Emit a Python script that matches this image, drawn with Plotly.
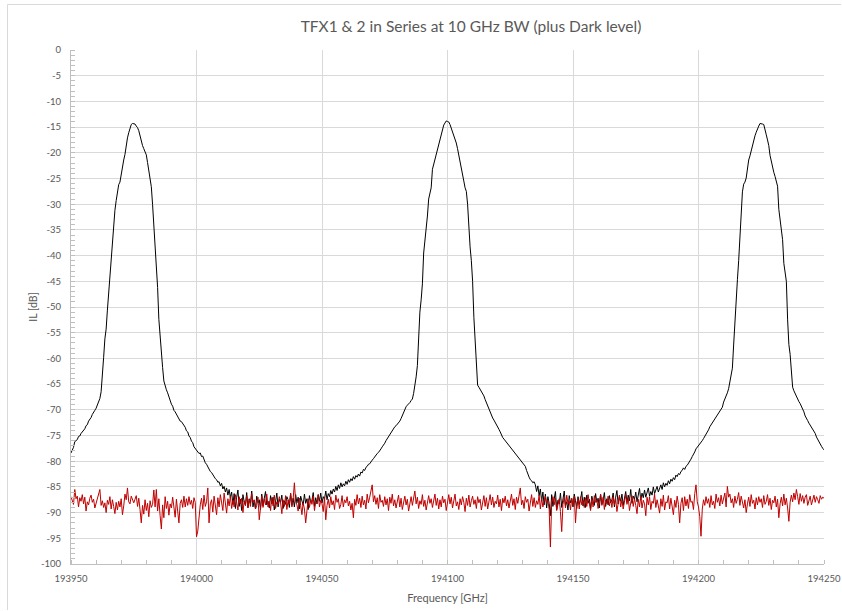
import numpy as np
import plotly.graph_objects as go

# Frequency sweep grid (GHz)
freq_start = 193950.0
freq_step = 0.5

# TFX1 & 2 in series transmission (dB), 0.5 GHz steps, one row = 5 GHz
il_tfx = [
    -78.4, -77.9, -77.3, -76.2, -75.9, -75.8, -75.2, -75.1, -74.6, -74.3,
    -73.8, -73.7, -73.1, -72.9, -72.2, -71.9, -71.5, -70.9, -70.6, -70.1,
    -69.7, -69.1, -68.6, -67.8, -66.5, -63.8, -59.8, -56.2, -54.3, -50.6,
    -47.3, -43.6, -41.0, -36.8, -33.9, -31.2, -29.3, -27.1, -26.2, -25.7,
    -24.0, -22.6, -21.4, -20.3, -18.4, -17.1, -16.1, -15.0, -14.5, -14.3,
    -14.3, -14.4, -14.8, -15.1, -15.7, -16.8, -17.5, -18.6, -19.2, -19.9,
    -20.4, -21.9, -23.4, -25.3, -26.6, -30.1, -33.8, -37.6, -40.7, -46.2,
    -52.4, -56.3, -59.6, -61.8, -64.4, -65.5, -66.1, -66.7, -67.6, -68.1,
    -68.9, -69.3, -70.1, -70.4, -70.9, -71.5, -71.7, -72.2, -72.3, -72.7,
    -73.1, -73.4, -74.1, -74.3, -75.1, -75.4, -76.1, -76.4, -77.2, -77.5,
    -78.0, -78.1, -78.5, -78.4, -79.1, -79.0, -79.7, -80.3, -80.6, -81.1,
    -81.4, -82.0, -82.2, -82.7, -82.9, -83.4, -83.6, -84.1, -84.0, -84.8,
    -84.3, -85.4, -84.9, -86.0, -85.2, -86.6, -85.5, -87.1, -86.0, -88.4,
    -86.3, -89.2, -87.0, -85.6, -88.8, -87.4, -89.6, -86.5, -87.9, -88.6,
    -86.1, -89.0, -87.3, -88.2, -85.8, -88.9, -87.6, -89.3, -86.8, -88.1,
    -87.5, -89.4, -86.4, -88.7, -87.2, -85.9, -88.5, -87.8, -89.1, -86.7,
    -88.3, -87.0, -89.5, -87.6, -86.2, -88.9, -87.4, -88.0, -86.6, -89.2,
    -87.7, -88.4, -86.9, -87.5, -89.0, -86.3, -88.6, -87.2, -88.9, -86.5,
    -88.1, -87.0, -89.3, -86.8, -87.9, -88.6, -86.4, -88.2, -87.3, -89.4,
    -86.7, -88.0, -87.6, -86.1, -88.8, -87.1, -88.3, -86.5, -87.8, -86.2,
    -88.1, -86.9, -87.4, -85.8, -87.5, -86.3, -86.9, -85.7, -86.4, -85.4,
    -86.0, -84.9, -85.7, -84.6, -85.3, -84.2, -85.0, -84.4, -84.8, -83.9,
    -84.5, -83.6, -84.1, -83.4, -83.8, -83.0, -83.5, -82.8, -83.1, -82.5,
    -82.9, -82.1, -82.3, -81.6, -81.8, -81.2, -81.0, -80.6, -80.5, -80.0,
    -79.8, -79.5, -79.1, -78.9, -78.5, -78.3, -77.8, -77.6, -77.2, -76.9,
    -76.5, -76.0, -75.6, -75.2, -74.8, -74.5, -74.0, -73.7, -73.3, -73.1,
    -72.8, -72.6, -72.2, -71.7, -71.1, -70.6, -70.0, -69.4, -69.1, -68.9,
    -68.6, -68.2, -67.9, -66.8, -65.3, -63.6, -61.4, -55.2, -51.0, -48.6,
    -45.5, -39.5, -37.0, -35.9, -32.3, -29.0, -28.0, -26.8, -23.2, -22.2,
    -21.3, -20.3, -19.2, -18.2, -17.3, -16.5, -15.3, -14.6, -14.2, -13.8,
    -13.9, -14.0, -14.5, -15.2, -16.0, -16.6, -17.4, -18.1, -19.2, -20.4,
    -21.4, -22.5, -23.6, -25.5, -26.8, -27.5, -30.0, -35.0, -38.3, -41.0,
    -45.0, -52.0, -56.0, -59.5, -65.2, -65.6, -66.0, -66.4, -66.7, -67.3,
    -68.0, -68.6, -69.3, -70.0, -70.6, -71.1, -71.6, -72.0, -72.4, -72.8,
    -73.2, -73.8, -74.3, -74.9, -75.4, -75.7, -76.0, -76.4, -76.7, -77.0,
    -77.3, -77.6, -77.9, -78.3, -78.5, -78.8, -79.1, -79.4, -79.7, -80.1,
    -80.4, -80.7, -81.0, -81.8, -82.6, -83.1, -83.6, -83.8, -84.2, -84.0,
    -84.6, -85.9, -84.8, -86.7, -85.4, -87.8, -86.0, -88.5, -86.4, -89.1,
    -86.9, -88.2, -90.6, -86.5, -88.8, -87.1, -85.9, -89.4, -87.6, -88.3,
    -86.2, -89.0, -87.4, -85.8, -88.6, -87.9, -89.5, -86.7, -88.1, -87.3,
    -88.9, -86.4, -87.7, -89.2, -86.9, -88.4, -87.5, -85.9, -88.7, -87.0,
    -89.0, -86.6, -88.2, -87.4, -89.3, -86.8, -87.9, -88.6, -86.3, -88.0,
    -87.2, -89.1, -86.5, -88.4, -87.6, -86.1, -88.8, -87.3, -88.5, -86.7,
    -88.1, -87.5, -86.2, -88.9, -87.0, -85.7, -88.3, -86.9, -87.8, -86.4,
    -88.6, -87.1, -85.9, -88.0, -86.6, -87.7, -85.5, -88.2, -86.8, -87.4,
    -86.0, -87.9, -86.5, -85.3, -87.6, -86.2, -87.1, -85.6, -87.0, -86.1,
    -85.2, -86.8, -85.9, -86.6, -85.0, -86.3, -85.4, -84.9, -86.0, -85.1,
    -84.6, -85.5, -84.2, -85.0, -84.3, -84.7, -83.8, -84.4, -83.5, -83.9,
    -83.2, -83.6, -82.7, -83.0, -82.4, -82.6, -82.0, -81.8, -81.3, -81.6,
    -81.0, -80.8, -80.4, -80.2, -79.6, -79.1, -78.7, -78.2, -77.6, -77.3,
    -77.0, -76.8, -76.4, -76.0, -75.6, -75.2, -74.7, -74.3, -73.9, -73.3,
    -72.9, -72.5, -72.2, -71.8, -71.4, -71.1, -70.7, -70.3, -69.9, -69.5,
    -68.5, -68.0, -67.3, -66.7, -65.9, -64.6, -63.2, -61.9, -57.4, -52.4,
    -47.8, -44.7, -41.0, -36.4, -31.8, -27.6, -26.1, -25.7, -24.9, -23.0,
    -21.4, -20.6, -19.5, -18.4, -17.4, -16.7, -16.0, -15.2, -14.8, -14.3,
    -14.3, -14.4, -14.5, -15.3, -16.5, -17.5, -18.6, -20.5, -21.8, -22.9,
    -23.8, -24.6, -25.5, -26.5, -31.0, -32.8, -34.8, -36.9, -41.5, -43.2,
    -45.0, -52.5, -57.3, -59.2, -62.0, -65.6, -66.3, -66.9, -67.3, -67.9,
    -68.4, -68.8, -69.3, -69.8, -70.4, -71.2, -71.8, -72.1, -72.6, -73.0,
    -73.4, -73.8, -74.3, -74.6, -75.3, -75.8, -76.4, -76.7, -77.1, -77.5,
    -77.8,
]

# Dark level (dB), same grid
il_dark = [
    -86.9, -87.6, -88.4, -85.5, -87.3, -86.8, -88.9, -87.1, -87.8, -86.5,
    -88.3, -87.0, -89.7, -87.9, -88.5, -87.2, -86.6, -88.0, -87.4, -89.1,
    -88.2, -87.5, -86.3, -85.5, -88.6, -87.7, -89.0, -88.1, -90.0, -87.6,
    -88.4, -86.9, -89.3, -87.5, -88.8, -90.2, -88.0, -89.5, -87.8, -88.9,
    -87.3, -90.4, -88.7, -86.4, -87.5, -85.2, -87.9, -88.3, -86.8, -87.6,
    -88.1, -87.4, -86.7, -88.8, -87.2, -89.4, -92.0, -88.6, -90.3, -87.5,
    -89.6, -88.2, -90.8, -87.7, -89.0, -88.4, -85.6, -88.9, -85.5, -89.7,
    -87.3, -90.6, -93.2, -88.5, -91.0, -86.9, -89.2, -87.8, -90.5, -88.3,
    -89.1, -87.0, -88.7, -90.9, -87.4, -89.8, -92.0, -88.2, -87.5, -89.0,
    -86.8, -88.9, -87.3, -88.6, -86.9, -88.4, -87.6, -89.2, -87.1, -88.0,
    -94.7, -93.6, -90.3, -88.5, -87.2, -89.4, -86.6, -88.8, -87.9, -85.2,
    -92.0, -88.3, -87.5, -89.9, -86.8, -88.2, -90.4, -87.1, -88.9, -86.5,
    -87.9, -89.6, -86.2, -88.4, -90.1, -87.3, -88.7, -86.8, -89.2, -87.6,
    -88.9, -86.5, -87.8, -89.5, -86.9, -88.3, -87.2, -90.0, -87.7, -88.6,
    -86.7, -89.1, -87.4, -88.8, -86.3, -88.0, -87.5, -89.3, -88.6, -87.0,
    -91.4, -88.2, -86.8, -89.0, -87.3, -88.5, -86.4, -88.9, -87.8, -89.6,
    -87.1, -88.7, -86.6, -89.2, -87.9, -88.4, -86.9, -88.1, -90.2, -87.5,
    -88.8, -86.7, -89.4, -87.6, -88.3, -86.2, -88.9, -87.4, -84.2, -87.8,
    -88.5, -89.7, -87.2, -88.6, -90.4, -88.1, -89.3, -92.0, -88.7, -87.3,
    -89.0, -87.5, -88.4, -86.8, -89.6, -87.9, -88.2, -86.5, -88.9, -87.6,
    -88.3, -89.8, -87.0, -91.4, -88.6, -87.4, -89.1, -86.9, -88.5, -87.7,
    -89.4, -86.6, -88.0, -87.3, -89.2, -88.4, -86.7, -88.9, -87.5, -88.1,
    -86.9, -88.7, -87.8, -89.5, -88.2, -91.0, -87.4, -88.6, -86.5, -88.3,
    -87.2, -89.0, -86.8, -88.5, -87.6, -89.3, -86.4, -88.1, -87.0, -85.6,
    -84.6, -87.9, -86.7, -88.4, -87.1, -89.2, -86.5, -88.0, -87.6, -88.8,
    -86.9, -88.5, -87.3, -89.6, -87.0, -88.2, -86.4, -88.7, -87.5, -89.1,
    -87.8, -86.6, -88.9, -87.2, -89.4, -88.0, -86.8, -88.5, -87.4, -89.7,
    -88.1, -86.9, -88.6, -87.5, -85.8, -88.3, -87.0, -89.2, -87.7, -88.4,
    -86.5, -88.8, -87.6, -89.5, -87.9, -86.7, -88.2, -87.3, -89.0, -87.8,
    -86.4, -88.6, -87.2, -89.3, -87.5, -88.9, -86.8, -88.1, -87.4, -89.6,
    -87.7, -86.5, -88.3, -87.0, -89.1, -87.6, -86.4, -88.7, -87.9, -89.4,
    -87.3, -88.5, -86.9, -88.0, -89.8, -87.2, -88.6, -86.6, -88.9, -87.7,
    -86.8, -88.4, -87.5, -89.2, -86.9, -88.1, -87.4, -89.5, -88.0, -86.7,
    -88.8, -87.1, -89.3, -87.6, -86.5, -88.5, -87.0, -89.0, -87.8, -88.3,
    -86.6, -88.9, -87.4, -89.6, -87.2, -88.1, -86.8, -88.7, -87.5, -89.1,
    -87.9, -86.4, -88.6, -87.3, -89.4, -87.0, -88.2, -86.7, -85.2, -88.5,
    -87.6, -89.2, -86.9, -88.0, -87.4, -89.7, -88.3, -86.5, -88.8, -87.1,
    -89.0, -87.7, -88.4, -86.6, -89.3, -87.2, -88.9, -87.5, -86.8, -88.2,
    -87.6, -89.4, -96.7, -88.1, -86.9, -88.5, -87.2, -89.6, -88.7, -87.3,
    -89.8, -93.7, -88.4, -87.0, -89.1, -86.6, -88.3, -87.7, -89.5, -87.2,
    -88.6, -86.8, -92.0, -88.1, -87.4, -89.3, -86.9, -88.5, -87.6, -89.0,
    -87.1, -88.8, -86.5, -88.2, -89.6, -87.3, -88.9, -86.7, -88.0, -87.5,
    -89.2, -87.8, -86.4, -88.6, -87.0, -89.4, -87.6, -88.3, -86.8, -88.7,
    -87.4, -89.0, -86.9, -88.5, -87.2, -89.8, -88.1, -86.6, -88.9, -87.5,
    -89.3, -87.7, -86.5, -88.4, -87.1, -89.6, -88.0, -86.7, -88.8, -87.3,
    -88.6, -90.2, -87.4, -88.9, -86.8, -89.1, -87.6, -88.3, -90.6, -87.0,
    -88.5, -86.9, -89.4, -87.8, -88.2, -86.4, -89.0, -87.5, -88.7, -90.1,
    -87.3, -88.8, -86.6, -89.5, -87.9, -88.1, -86.7, -89.3, -87.2, -88.6,
    -90.4, -87.6, -89.0, -86.8, -88.4, -92.0, -88.2, -87.1, -89.6, -86.9,
    -88.7, -87.4, -89.2, -86.5, -88.0, -87.8, -89.4, -86.3, -84.6, -87.9,
    -88.9, -90.8, -94.6, -89.3, -87.5, -88.6, -86.9, -88.2, -87.3, -89.0,
    -86.7, -88.5, -87.8, -89.2, -86.4, -88.0, -87.1, -88.7, -86.6, -88.3,
    -87.5, -86.2, -88.9, -84.9, -87.0, -86.4, -88.1, -87.3, -89.0, -86.8,
    -88.2, -87.4, -86.1, -88.6, -86.8, -87.7, -89.1, -87.5, -90.0, -88.3,
    -87.0, -88.8, -86.5, -88.2, -87.6, -89.3, -87.1, -88.5, -86.9, -88.0,
    -87.3, -89.0, -86.7, -88.4, -87.8, -86.5, -88.6, -87.2, -89.4, -87.6,
    -88.1, -86.8, -88.9, -87.4, -91.0, -88.3, -87.0, -88.7, -86.4, -88.5,
    -87.2, -89.1, -91.7, -88.0, -86.6, -87.9, -86.2, -87.5, -85.5, -86.9,
    -88.4, -86.3, -87.8, -86.7, -88.2, -87.0, -86.5, -88.6, -87.4, -86.8,
    -88.5, -87.3, -86.6, -88.0, -86.9, -87.5, -88.2, -86.7, -87.4, -87.0,
    -87.2,
]

assert len(il_tfx) == 601 and len(il_dark) == 601
freq = freq_start + freq_step * np.arange(len(il_tfx))

x_tick_vals = [193950, 194000, 194050, 194100, 194150, 194200, 194250]
x_tick_text = ["193950", "194000", "194050", "194100", "194150", "194200", "194250"]
y_tick_vals = list(range(0, -101, -5))
y_tick_text = [str(v) for v in y_tick_vals]

title_text = "TFX1 &amp; 2 in Series at 10 GHz BW (plus Dark level)"
font_family = "Lato, 'Open Sans', sans-serif"
txt_color = "#595959"
grid_color = "#D9D9D9"
axis_color = "#BFBFBF"

# plot area in pixels (for the chart-area border lines)
W, H = 842, 611
L, R, T, B = 71, 18, 50, 47
pw, ph = W - L - R, H - T - B

fig = go.Figure()
fig.add_trace(go.Scatter(x=freq, y=il_tfx, mode="lines",
                         line=dict(color="#000000", width=1), name="TFX1 & 2"))
fig.add_trace(go.Scatter(x=freq, y=il_dark, mode="lines",
                         line=dict(color="#C00000", width=1), name="Dark"))

bx = (7.5 - L) / pw
by = (H - B - 4.5) / ph
fig.update_layout(
    width=W, height=H,
    autosize=False,
    margin=dict(l=L, r=R, t=T, b=B, pad=0),
    paper_bgcolor="white", plot_bgcolor="white",
    showlegend=False,
    font=dict(family=font_family, color=txt_color, size=10),
    title=dict(text=title_text, x=471 / W, xref="container", xanchor="center",
               y=1 - 27 / H, yref="container", yanchor="middle",
               font=dict(family=font_family, size=15.5, color=txt_color)),
    shapes=[
        dict(type="line", xref="paper", yref="paper", x0=bx, x1=bx,
             y0=(-B + 1) / ph, y1=by, line=dict(color=grid_color, width=1), layer="below"),
        dict(type="line", xref="paper", yref="paper", x0=bx, x1=(W - L - 1) / pw,
             y0=by, y1=by, line=dict(color=grid_color, width=1), layer="below"),
    ],
)

fig.update_xaxes(
    range=[193950, 194250], tickvals=x_tick_vals, ticktext=x_tick_text,
    automargin=False,
    showgrid=True, gridcolor=grid_color, gridwidth=1,
    showline=True, linecolor=axis_color, linewidth=1,
    ticks="", zeroline=False,
    tickfont=dict(size=9.5, color=txt_color),
    ticklabelstandoff=6,
    minor=dict(dtick=10, tick0=193950, ticks="inside", ticklen=4,
               tickcolor=axis_color, showgrid=False),
    title=dict(text="Frequency [GHz]", font=dict(size=11, color=txt_color), standoff=10),
)
fig.update_yaxes(
    range=[-100, 0], tickvals=y_tick_vals, ticktext=y_tick_text,
    automargin=False,
    showgrid=True, gridcolor=grid_color, gridwidth=1,
    showline=True, linecolor=axis_color, linewidth=1,
    ticks="", zeroline=False,
    tickfont=dict(size=9.5, color=txt_color),
    ticklabelstandoff=7,
    minor=dict(dtick=1, tick0=0, ticks="inside", ticklen=4,
               tickcolor=axis_color, showgrid=False),
    title=dict(text="IL [dB]", font=dict(size=10.5, color=txt_color), standoff=1),
)

fig.write_html("out.html")
